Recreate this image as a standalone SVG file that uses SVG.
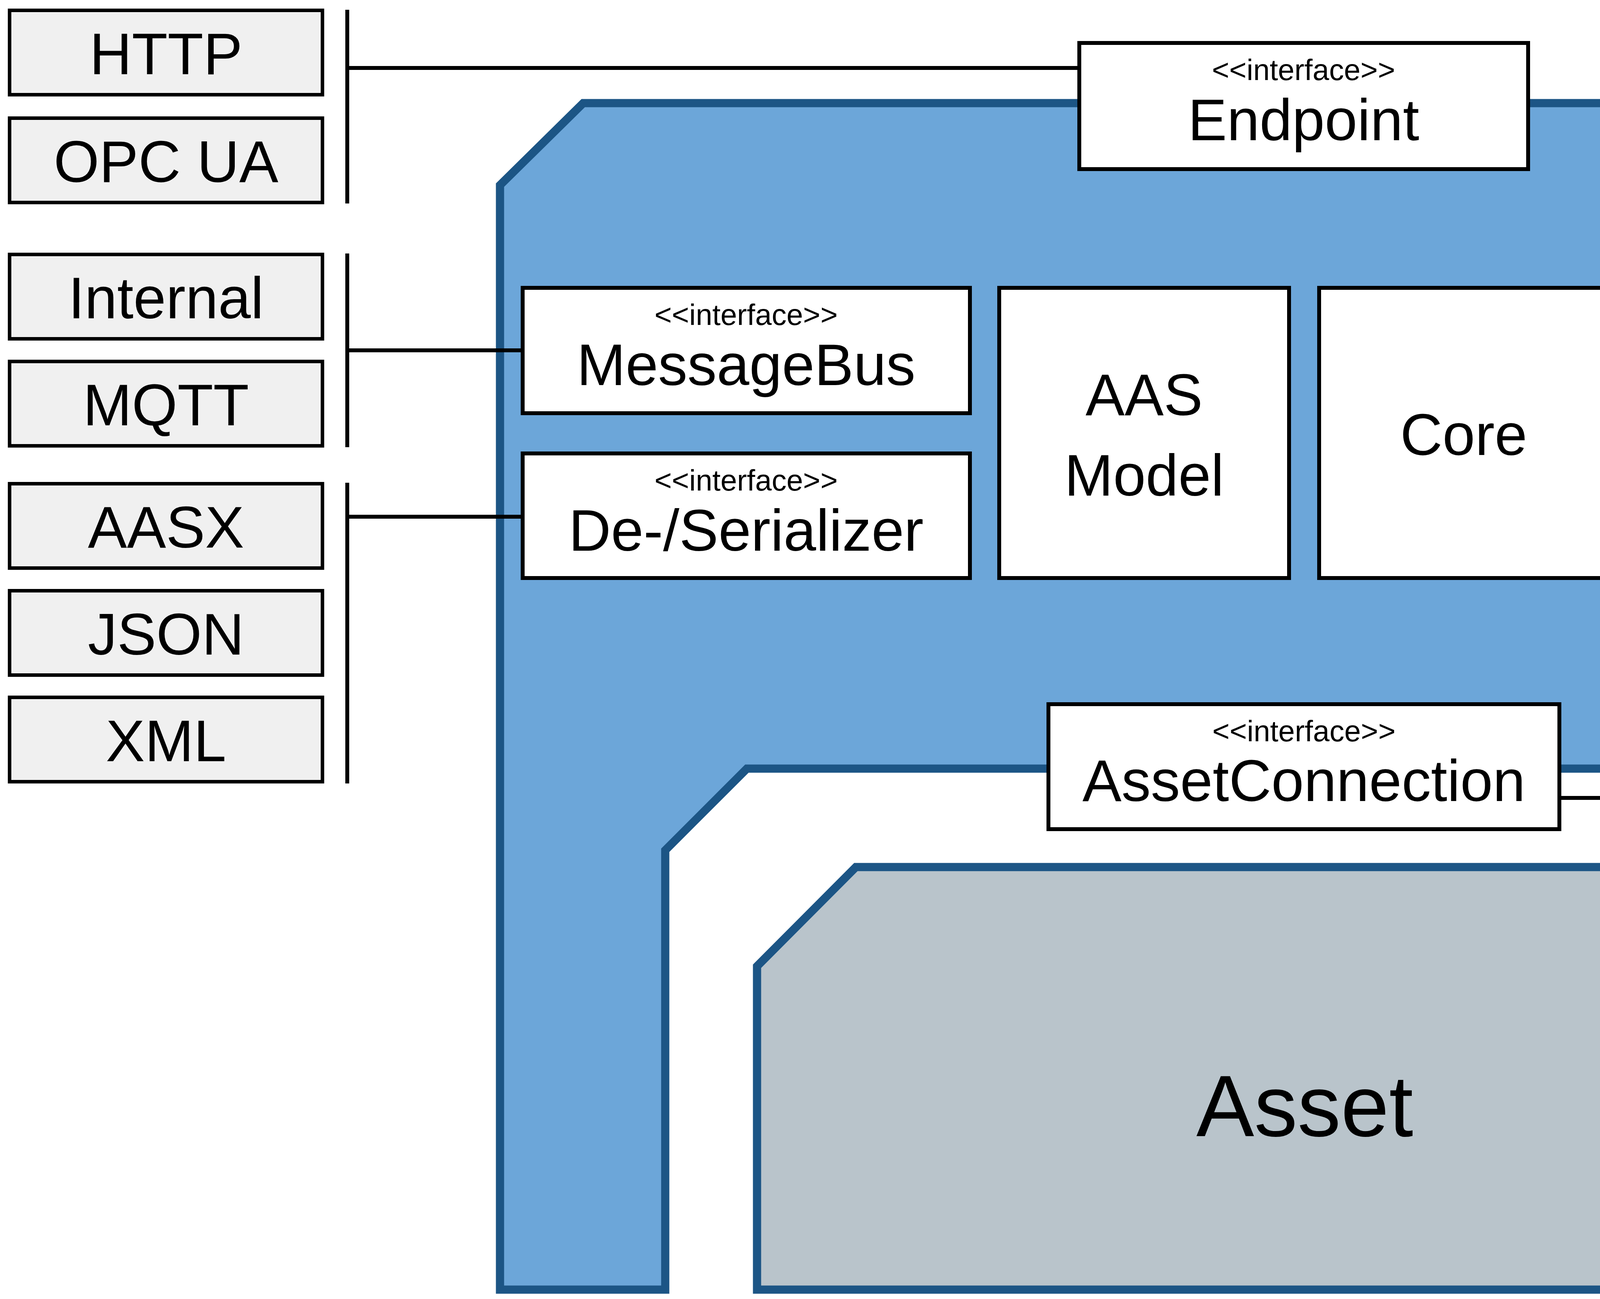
<svg xmlns="http://www.w3.org/2000/svg" width="6652" height="3326" viewBox="0 0 6652 3326">
<style>
.bg{fill:#ffffff}
.server{fill:#6CA6D9;stroke:#1C5585;stroke-width:21;stroke-linejoin:miter}
.asset{fill:#B9C4CB;stroke:#1C5585;stroke-width:21;stroke-linejoin:miter}
.box{fill:#ffffff;stroke:#000000;stroke-width:10}
.impl{fill:#F0F0F0;stroke:#000000;stroke-width:9}
.conn{stroke:#000000;stroke-width:10;fill:none}
text{font-family:'Liberation Sans',Arial,sans-serif;fill:#000000;text-anchor:middle}
.lbl{font-size:150px}
.st{font-size:76px}
.big{font-size:222px}
</style>
<rect class="bg" x="0" y="0" width="6652" height="3326"/>
<g id="server-shape">
<path class="server" d="M1280,474 L1493,264 L5190,264 L5400,474 L5400,3302 L4977,3302 L4977,2179 L4765,1968 L1912,1968 L1703,2177 L1703,3302 L1280,3302 Z"/>
</g>
<g id="asset">
<path class="asset" d="M1938,2474 L2191,2220 L4486,2220 L4740,2474 L4740,3302 L1938,3302 Z"/>
<text class="big" x="3340" y="2909">Asset</text>
</g>
<g id="connectors">
<line class="conn" x1="889" y1="25" x2="889" y2="521"/>
<line class="conn" x1="889" y1="174" x2="2758" y2="174"/>
<line class="conn" x1="889" y1="649" x2="889" y2="1145"/>
<line class="conn" x1="889" y1="897" x2="1333" y2="897"/>
<line class="conn" x1="889" y1="1236" x2="889" y2="2006"/>
<line class="conn" x1="889" y1="1323" x2="1333" y2="1323"/>
<line class="conn" x1="5777" y1="649" x2="5777" y2="1145"/>
<line class="conn" x1="5342" y1="898" x2="5777" y2="898"/>
<line class="conn" x1="5777" y1="1236" x2="5777" y2="1733"/>
<line class="conn" x1="5342" y1="1320" x2="5777" y2="1320"/>
<line class="conn" x1="5777" y1="1842" x2="5777" y2="2610"/>
<line class="conn" x1="3997" y1="2043" x2="5777" y2="2043"/>
</g>
<g id="endpoint">
<rect class="box" x="2763" y="110" width="1149" height="323"/>
<text class="st" x="3337" y="205">&lt;&lt;interface&gt;&gt;</text>
<text class="lbl" x="3337" y="359">Endpoint</text>
</g>
<g id="messagebus">
<rect class="box" x="1338" y="737" width="1145" height="321"/>
<text class="st" x="1910" y="832">&lt;&lt;interface&gt;&gt;</text>
<text class="lbl" x="1910" y="986">MessageBus</text>
</g>
<g id="serializer">
<rect class="box" x="1338" y="1161" width="1145" height="319"/>
<text class="st" x="1910" y="1256">&lt;&lt;interface&gt;&gt;</text>
<text class="lbl" x="1910" y="1410">De-/Serializer</text>
</g>
<g id="aas-model">
<rect class="box" x="2558" y="737" width="742" height="743"/>
<text class="lbl" x="2929" y="1063">AAS</text>
<text class="lbl" x="2929" y="1269">Model</text>
</g>
<g id="core">
<rect class="box" x="3377" y="737" width="740" height="743"/>
<text class="lbl" x="3747" y="1165">Core</text>
</g>
<g id="persistence">
<rect class="box" x="4193" y="737" width="1144" height="321"/>
<text class="st" x="4765" y="832">&lt;&lt;interface&gt;&gt;</text>
<text class="lbl" x="4765" y="986">Persistence</text>
</g>
<g id="filestorage">
<rect class="box" x="4193" y="1161" width="1144" height="319"/>
<text class="st" x="4765" y="1256">&lt;&lt;interface&gt;&gt;</text>
<text class="lbl" x="4765" y="1410">FileStorage</text>
</g>
<g id="assetconnection">
<rect class="box" x="2684" y="1803" width="1308" height="320"/>
<text class="st" x="3338" y="1898">&lt;&lt;interface&gt;&gt;</text>
<text class="lbl" x="3338" y="2051">AssetConnection</text>
</g>
<g id="endpoint-http">
<rect class="impl" x="24.5" y="26.5" width="801" height="216"/>
<text class="lbl" x="425" y="190">HTTP</text>
</g>
<g id="endpoint-opcua">
<rect class="impl" x="24.5" y="302.5" width="801" height="216"/>
<text class="lbl" x="425" y="466">OPC UA</text>
</g>
<g id="messagebus-internal">
<rect class="impl" x="24.5" y="651.5" width="801" height="216"/>
<text class="lbl" x="425" y="815">Internal</text>
</g>
<g id="messagebus-mqtt">
<rect class="impl" x="24.5" y="925.5" width="801" height="216"/>
<text class="lbl" x="425" y="1089">MQTT</text>
</g>
<g id="serializer-aasx">
<rect class="impl" x="24.5" y="1238.5" width="801" height="216"/>
<text class="lbl" x="425" y="1402">AASX</text>
</g>
<g id="serializer-json">
<rect class="impl" x="24.5" y="1512.5" width="801" height="216"/>
<text class="lbl" x="425" y="1676">JSON</text>
</g>
<g id="serializer-xml">
<rect class="impl" x="24.5" y="1785.5" width="801" height="216"/>
<text class="lbl" x="425" y="1949">XML</text>
</g>
<g id="persistence-memory">
<rect class="impl" x="5826.5" y="651.5" width="802" height="216"/>
<text class="lbl" x="6228" y="815">Memory</text>
</g>
<g id="persistence-file">
<rect class="impl" x="5826.5" y="925.5" width="802" height="216"/>
<text class="lbl" x="6228" y="1089">File</text>
</g>
<g id="filestorage-memory">
<rect class="impl" x="5826.5" y="1238.5" width="802" height="216"/>
<text class="lbl" x="6228" y="1402">Memory</text>
</g>
<g id="filestorage-filesystem">
<rect class="impl" x="5826.5" y="1512.5" width="802" height="216"/>
<text class="lbl" x="6228" y="1676" font-size="144">FileSystem</text>
</g>
<g id="assetconnection-mqtt">
<rect class="impl" x="5826.5" y="1843.5" width="802" height="216"/>
<text class="lbl" x="6228" y="2007">MQTT</text>
</g>
<g id="assetconnection-opcua">
<rect class="impl" x="5826.5" y="2117.5" width="802" height="216"/>
<text class="lbl" x="6228" y="2281">OPC UA</text>
</g>
<g id="assetconnection-http">
<rect class="impl" x="5826.5" y="2390.5" width="802" height="216"/>
<text class="lbl" x="6228" y="2554">HTTP</text>
</g>
</svg>
